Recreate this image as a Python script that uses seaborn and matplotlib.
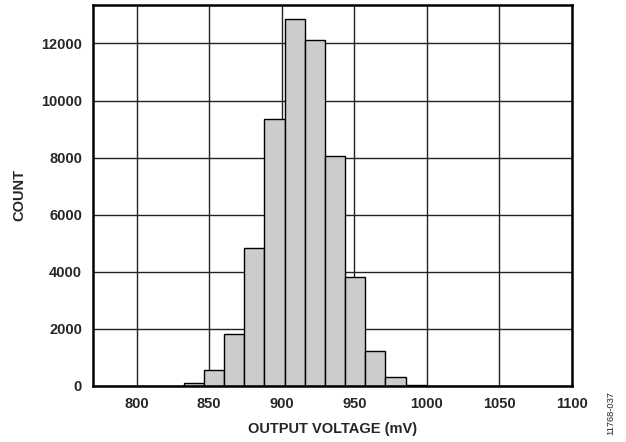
import matplotlib
matplotlib.use("Agg")
import matplotlib.pyplot as plt
import seaborn as sns
import numpy as np

# Data
bin_edges = [832.5, 846.4, 860.3, 874.2, 888.1, 902.0, 915.9, 929.8, 943.7,
             957.6, 971.5, 985.4, 999.3]
counts = [105, 540, 1815, 4820, 9350, 12860, 12140, 8050, 3800, 1220, 295, 40]
x_ticks = [800, 850, 900, 950, 1000, 1050, 1100]
y_ticks = [0, 2000, 4000, 6000, 8000, 10000, 12000]

sns.set_theme(style="white")
plt.rcParams['font.family'] = ['Liberation Sans', 'DejaVu Sans']

fig = plt.figure(figsize=(6.26, 4.42), dpi=100)
ax = fig.add_axes([0.1486, 0.1273, 0.7651, 0.8614])

centers = [(bin_edges[i] + bin_edges[i + 1]) / 2 for i in range(len(counts))]
sns.histplot(x=centers, weights=counts, bins=bin_edges, ax=ax,
             color="#cccccc", edgecolor="black", linewidth=1.0, alpha=1.0,
             zorder=3)

ax.set_xlim(770, 1100)
ax.set_ylim(0, 13350)
ax.set_xticks(x_ticks)
ax.set_yticks(y_ticks)
ax.grid(True, color="#222222", linewidth=1.0, zorder=0)
ax.set_axisbelow(True)
for s in ax.spines.values():
    s.set_color("black")
    s.set_linewidth(1.8)
    s.set_zorder(5)
ax.tick_params(axis="both", length=0, pad=8, labelsize=10.5)
for lab in ax.get_xticklabels() + ax.get_yticklabels():
    lab.set_fontweight("bold")
ax.set_xlabel("OUTPUT VOLTAGE (mV)", fontsize=10.5, fontweight="bold", labelpad=8)
ax.set_ylabel("")
fig.text(19 / 626, 1 - 195 / 442, "COUNT", rotation=90, fontsize=10.5,
         fontweight="bold", ha="center", va="center")

fig.text(611 / 626, 1 - 413 / 442, "11768-037", rotation=90, fontsize=6.7,
         ha="center", va="center", color="#222222")

fig.savefig("out.png", dpi=100)
